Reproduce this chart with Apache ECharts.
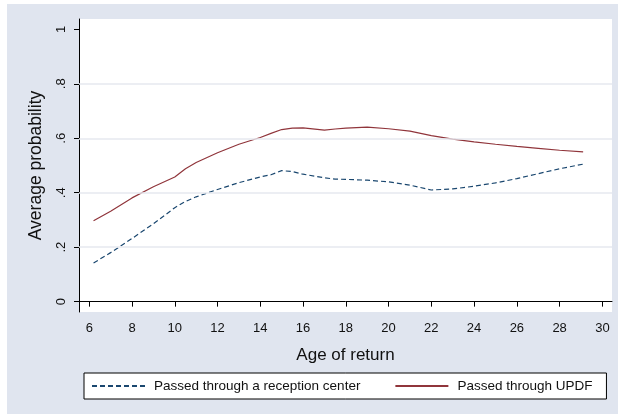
<!DOCTYPE html>
<html>
<head>
<meta charset="utf-8">
<script src="https://cdn.jsdelivr.net/npm/echarts@6/dist/echarts.min.js"></script>
<style>html,body{margin:0;padding:0;background:#fff}#c{width:618px;height:414px}</style>
</head>
<body>
<div id="c"></div>
<script>
const ages = [6.2, 7, 8, 9, 10, 10.5, 11, 12, 13, 14, 14.5, 15, 15.5, 16, 17, 17.5, 18, 19, 20, 21, 22, 23, 24, 25, 26, 27, 28, 29.1];
const reception = [0.142, 0.180, 0.232, 0.286, 0.345, 0.368, 0.385, 0.412, 0.437, 0.458, 0.466, 0.481, 0.478, 0.468, 0.455, 0.450, 0.449, 0.446, 0.440, 0.428, 0.410, 0.414, 0.424, 0.436, 0.452, 0.470, 0.488, 0.505];
const updf = [0.297, 0.332, 0.381, 0.422, 0.458, 0.488, 0.511, 0.547, 0.578, 0.603, 0.618, 0.632, 0.637, 0.638, 0.630, 0.634, 0.637, 0.641, 0.635, 0.626, 0.610, 0.597, 0.587, 0.578, 0.570, 0.563, 0.556, 0.550];
const xTicks = [6, 8, 10, 12, 14, 16, 18, 20, 22, 24, 26, 28, 30];
const yTicks = [0, 0.2, 0.4, 0.6, 0.8, 1];
const yTickLabels = ['0', '.2', '.4', '.6', '.8', '1'];
const yGrid = [0.2, 0.4, 0.6, 0.8];
const seriesNames = ['Passed through a reception center', 'Passed through UPDF'];

const fmtY = v => {
  let best = 0;
  yTicks.forEach((t, i) => { if (Math.abs(t - v) < Math.abs(yTicks[best] - v)) best = i; });
  return yTickLabels[best];
};
const FONT = '"Liberation Sans", Arial, sans-serif';

const chart = echarts.init(document.getElementById('c'), null, {renderer: 'canvas'});
chart.setOption({
  animation: false,
  backgroundColor: '#e0e5ef',
  graphic: [
    {type: 'rect', shape: {x: 0, y: 0, width: 618, height: 4}, style: {fill: '#ffffff'}, silent: true},
    {type: 'rect', shape: {x: 0, y: 0, width: 7, height: 414}, style: {fill: '#ffffff'}, silent: true}
  ],
  grid: {left: 79, top: 19, width: 533, height: 293, show: true, backgroundColor: '#ffffff', borderWidth: 0},
  legend: {
    left: 84, top: 373,
    backgroundColor: '#ffffff', borderColor: '#000000', borderWidth: 1,
    padding: [6, 14, 6, 7],
    itemWidth: 53, itemHeight: 12, itemGap: 34,
    itemStyle: {opacity: 0},
    textStyle: {fontFamily: FONT, fontSize: 13.5, color: '#111', padding: [0, 0, 0, 4]},
    data: seriesNames
  },
  xAxis: {
    type: 'value', min: 5.52, max: 30.45,
    name: 'Age of return', nameLocation: 'middle', nameGap: 35,
    nameTextStyle: {fontFamily: FONT, fontSize: 17, color: '#111'},
    axisLine: {show: true, lineStyle: {color: '#000', width: 1}},
    axisTick: {show: true, length: 5, customValues: xTicks, lineStyle: {color: '#000'}},
    axisLabel: {customValues: xTicks, margin: 10, fontFamily: FONT, fontSize: 13, color: '#111'},
    splitLine: {show: false}
  },
  yAxis: {
    type: 'value', min: -0.038, max: 1.038,
    name: 'Average probability', nameLocation: 'middle', nameGap: 34, nameRotate: 90,
    nameTextStyle: {fontFamily: FONT, fontSize: 17.5, color: '#111'},
    axisLine: {show: true, lineStyle: {color: '#000', width: 1}},
    axisTick: {show: true, length: 5, customValues: yTicks, lineStyle: {color: '#000'}},
    axisLabel: {customValues: yTicks, rotate: 90, margin: 11, fontFamily: FONT, fontSize: 13, color: '#111', formatter: fmtY},
    splitLine: {show: false}
  },
  series: [
    {
      name: seriesNames[0], type: 'line', symbol: 'none', smooth: false,
      data: ages.map((a, i) => [a, reception[i]]),
      lineStyle: {color: '#1a476f', width: 1.2, type: [5, 3]},
      itemStyle: {color: '#1a476f'},
      markLine: {
        silent: true, symbol: ['none', 'none'], label: {show: false},
        lineStyle: {color: '#e6e9ef', width: 1.5, type: 'solid'},
        data: yGrid.map(v => ({yAxis: v}))
      },
      z: 3
    },
    {
      name: seriesNames[1], type: 'line', symbol: 'none', smooth: false,
      data: ages.map((a, i) => [a, updf[i]]),
      lineStyle: {color: '#90353b', width: 1.2},
      itemStyle: {color: '#90353b'},
      z: 3
    }
  ]
});
</script>
</body>
</html>
